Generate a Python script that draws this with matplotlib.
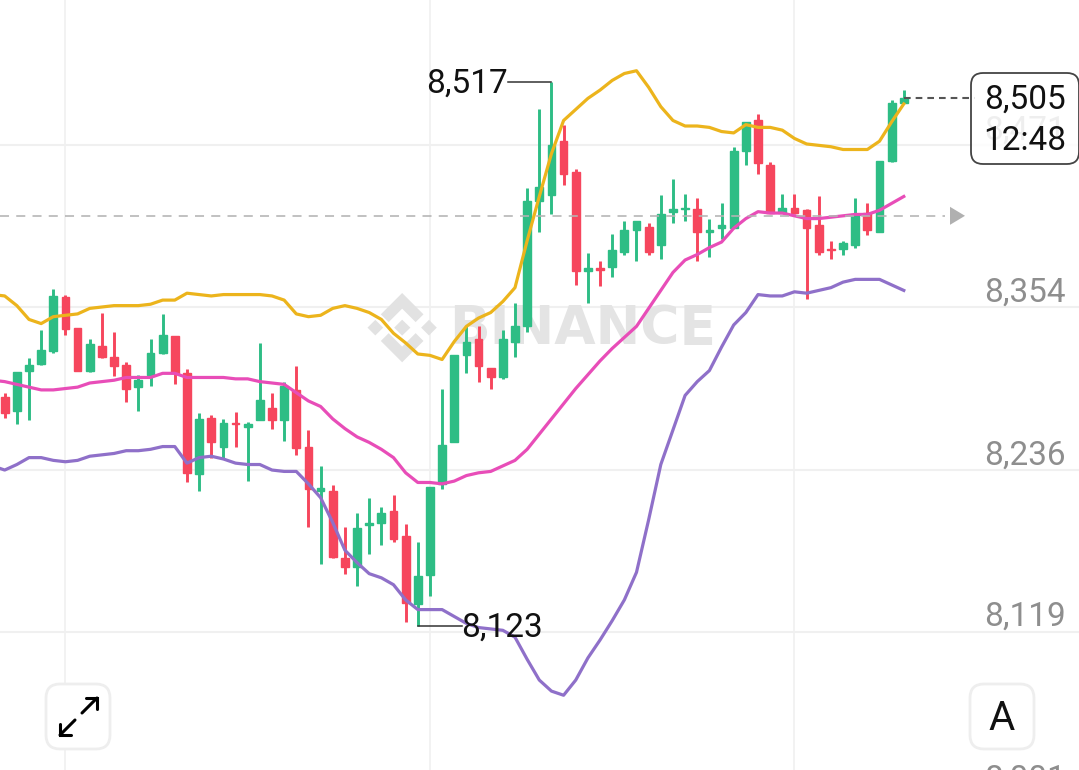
import numpy as np
import matplotlib
matplotlib.use("Agg")
from matplotlib import pyplot as plt
from matplotlib.patches import FancyBboxPatch, Polygon

plt.rcParams["font.family"] = ["Roboto", "DejaVu Sans"]

GREEN = "#2ebd85"
RED = "#f6465d"
YELLOW = "#ecb41c"
MAGENTA = "#e84db8"
PURPLE = "#8f70c9"

# candles, one per period
opens = [8289, 8279, 8308, 8313, 8322, 8361, 8339, 8308, 8326, 8318,
         8312, 8296, 8305, 8321, 8333, 8306, 8233, 8274, 8253, 8270,
         8267, 8272, 8281, 8272, 8294, 8253, 8221, 8221, 8172, 8166,
         8196, 8198, 8206, 8188, 8139, 8160, 8226, 8256, 8319, 8331,
         8310, 8303, 8329, 8340, 8431, 8435, 8474, 8452, 8380, 8382,
         8383, 8394, 8410, 8412, 8399, 8423, 8425, 8425, 8408, 8411,
         8411, 8467, 8489, 8457, 8422, 8426, 8424, 8413, 8396, 8396,
         8399, 8422, 8408, 8460, 8502]
closes = [8277, 8307, 8312, 8323, 8362, 8338, 8308, 8327, 8318, 8311,
          8295, 8301, 8321, 8334, 8306, 8234, 8273, 8256, 8270, 8269,
          8269, 8287, 8272, 8297, 8252, 8222, 8223, 8173, 8166, 8194,
          8198, 8205, 8186, 8140, 8159, 8224, 8254, 8319, 8329, 8311,
          8303, 8331, 8340, 8431, 8441, 8471, 8450, 8380, 8382, 8381,
          8395, 8410, 8416, 8394, 8421, 8425, 8426, 8408, 8410, 8413,
          8467, 8488, 8458, 8422, 8426, 8422, 8411, 8394, 8395, 8400,
          8421, 8410, 8460, 8502, 8505]
highs = [8292, 8307, 8317, 8337, 8367, 8363, 8339, 8331, 8350, 8336,
         8314, 8305, 8331, 8349, 8333, 8309, 8277, 8276, 8273, 8278,
         8271, 8328, 8292, 8300, 8311, 8265, 8239, 8225, 8195, 8205,
         8216, 8209, 8218, 8197, 8184, 8224, 8295, 8319, 8340, 8340,
         8310, 8337, 8357, 8440, 8497, 8517, 8486, 8454, 8393, 8387,
         8407, 8416, 8416, 8415, 8435, 8447, 8436, 8433, 8418, 8429,
         8470, 8488, 8494, 8459, 8436, 8436, 8425, 8434, 8402, 8402,
         8433, 8429, 8460, 8504, 8511]
lows = [8274, 8269, 8272, 8312, 8321, 8334, 8308, 8307, 8317, 8304,
        8285, 8279, 8297, 8320, 8298, 8227, 8221, 8245, 8245, 8253,
        8228, 8272, 8266, 8257, 8247, 8195, 8168, 8172, 8161, 8152,
        8175, 8182, 8184, 8126, 8123, 8145, 8222, 8256, 8306, 8300,
        8295, 8302, 8318, 8336, 8408, 8421, 8442, 8370, 8357, 8369,
        8376, 8392, 8387, 8392, 8389, 8415, 8416, 8387, 8390, 8403,
        8411, 8457, 8450, 8422, 8422, 8421, 8360, 8392, 8389, 8392,
        8397, 8406, 8408, 8459, 8502]

# bollinger bands, the first value sits just off the left edge
upper = [8363, 8362, 8355, 8345, 8342, 8347, 8348, 8349, 8353, 8354,
         8355, 8355, 8355, 8356, 8359, 8359, 8364, 8363, 8362, 8363,
         8363, 8363, 8363, 8362, 8359, 8349, 8347, 8348, 8353, 8355,
         8353, 8350, 8345, 8335, 8328, 8320, 8319, 8316, 8329, 8340,
         8346, 8350, 8358, 8368, 8402, 8434, 8465, 8489, 8497, 8505,
         8511, 8518, 8523, 8525, 8513, 8499, 8489, 8485, 8485, 8484,
         8481, 8480, 8486, 8484, 8484, 8482, 8476, 8472, 8471, 8470,
         8468, 8468, 8468, 8474, 8488, 8501]
middle = [8301, 8300, 8298, 8296, 8294, 8294, 8295, 8296, 8299, 8300,
          8301, 8303, 8303, 8303, 8306, 8306, 8303, 8303, 8303, 8303,
          8302, 8302, 8300, 8299, 8298, 8292, 8286, 8282, 8273, 8266,
          8260, 8256, 8251, 8245, 8234, 8227, 8227, 8226, 8228, 8232,
          8234, 8235, 8239, 8243, 8251, 8262, 8273, 8284, 8295, 8305,
          8315, 8324, 8332, 8340, 8353, 8366, 8379, 8388, 8392, 8397,
          8401, 8411, 8418, 8423, 8422, 8422, 8420, 8418, 8418, 8419,
          8420, 8421, 8421, 8424, 8429, 8434]
lower = [8239, 8236, 8240, 8245, 8245, 8243, 8242, 8243, 8246, 8247,
         8248, 8250, 8250, 8251, 8253, 8253, 8241, 8245, 8246, 8244,
         8241, 8240, 8240, 8236, 8235, 8235, 8226, 8216, 8198, 8178,
         8169, 8161, 8158, 8153, 8142, 8135, 8135, 8135, 8130, 8125,
         8122, 8121, 8120, 8115, 8099, 8084, 8076, 8073, 8084, 8100,
         8113, 8127, 8142, 8162, 8200, 8240, 8265, 8290, 8300, 8308,
         8325, 8341, 8350, 8363, 8362, 8362, 8365, 8364, 8366, 8368,
         8372, 8374, 8374, 8374, 8370, 8366]

price_ticks = [8471, 8354, 8236, 8119, 8001]
price_labels = ["8,471", "8,354", "8,236", "8,119", "8,001"]
time_ticks = [5, 35, 65]

last_price = 8505
countdown = "12:48"
mark_price = 8420
high_idx, high_val = 45, 8517
low_idx, low_val = 34, 8123

fig = plt.figure(figsize=(10.79, 7.70), dpi=100)
ax = fig.add_axes([0, 0, 1, 1])
ax.set_xlim(-0.387, 88.42)
ax.set_ylim(8018.9, 8576.2)
ax.axis("off")

# overlay in screen pixels for the app chrome around the chart
ui = fig.add_axes([0, 0, 1, 1], zorder=5)
ui.set_xlim(0, 1079)
ui.set_ylim(770, 0)
ui.axis("off")
ui.patch.set_alpha(0)

for p in price_ticks:
    ax.axhline(p, color="#f0f0f0", lw=1.5, zorder=1)
for t in time_ticks:
    ax.axvline(t, color="#f0f0f0", lw=1.2, zorder=1)

# watermark
logo_parts = [
    [(38.5, 53), (63, 28.5), (87.5, 53), (101.8, 38.8), (63, 0), (24.2, 38.8)],
    [(38.5, 73), (63, 97.5), (87.5, 73), (101.8, 87.2), (63, 126), (24.2, 87.2)],
    [(0, 63), (14.2, 48.8), (28.5, 63), (14.2, 77.2)],
    [(97.5, 63), (111.8, 48.8), (126, 63), (111.8, 77.2)],
    [(48.5, 63), (63, 48.5), (78, 63), (63, 77.5)],
]
for part in logo_parts:
    pts = [(367.5 + 0.55 * a, 293 + 0.55 * b) for a, b in part]
    ax.add_patch(Polygon(ax.transData.inverted().transform(
        [(x, 770 - y) for x, y in pts]), color="#e2e2e2", lw=0, zorder=1.5))
x_wm, y_wm = ax.transData.inverted().transform((449, 770 - 329))
ax.text(x_wm, y_wm, "BINANCE", family="DejaVu Sans", weight="bold", fontsize=38.5,
        color="#e4e4e4", ha="left", va="center", zorder=1.5)

# candles
idx = np.arange(len(opens))
o = np.array(opens)
c = np.array(closes)
colors = [GREEN if b >= a else RED for a, b in zip(opens, closes)]
ax.vlines(idx, lows, highs, colors=colors, lw=2.1, zorder=2)
ax.bar(idx, np.abs(c - o), bottom=np.minimum(o, c), width=0.64, color=colors,
       edgecolor=colors, linewidth=1.0, zorder=2)

# bands
band_x = np.arange(-1, len(opens))
ax.plot(band_x, upper, color=YELLOW, lw=2.3, zorder=3, solid_joinstyle="round")
ax.plot(band_x, middle, color=MAGENTA, lw=2.3, zorder=3, solid_joinstyle="round")
ax.plot(band_x, lower, color=PURPLE, lw=2.3, zorder=3, solid_joinstyle="round")

# price labels on the right
axis_tr = ax.get_yaxis_transform()
for p, lab in zip(price_ticks, price_labels):
    ax.annotate(lab, xy=(1066 / 1079, p), xycoords=axis_tr, xytext=(0, 10.5),
                textcoords="offset points", ha="right", va="center",
                fontsize=24, color="#8e8e8e", zorder=2)

# mark price line and arrow
ax.plot([-0.387, 77.4], [mark_price, mark_price], color="#b4b4b4", lw=1.3,
        dashes=(5, 4), zorder=4, alpha=0.9)
_, y_mark = ax.transData.transform((0, mark_price))
ui.add_patch(Polygon([(950, 770 - y_mark - 9), (965, 770 - y_mark), (950, 770 - y_mark + 9)],
                     color="#b0b0b0", lw=0))

# last price line and box
ax.plot([74, 87.9 - 8], [last_price, last_price], color="#555555", lw=1.5,
        dashes=(3.2, 2.4), zorder=4)
ui.add_patch(FancyBboxPatch((983, 85), 84, 67, boxstyle="round,pad=12,rounding_size=12",
                            fc=(1, 1, 1, 0.86), ec="#444444", lw=1.3))
_, y_last = ax.transData.transform((0, last_price))
ui.text(1066, 770 - y_last + 1, "8,505", ha="right", va="center", fontsize=24, color="#111111")
ui.text(1066, 141, countdown, ha="right", va="center", fontsize=24, color="#111111")

# high and low markers
ax.plot([high_idx, high_idx - 3.55], [high_val, high_val], color="#333333", lw=1.1, zorder=4)
ax.annotate("8,517", xy=(high_idx - 3.55, high_val), xytext=(0, -1.5), textcoords="offset points",
            ha="right", va="center", fontsize=24, color="#111111", zorder=6)
ax.plot([low_idx, low_idx + 3.6], [low_val, low_val], color="#333333", lw=1.1, zorder=4)
ax.annotate("8,123", xy=(low_idx + 3.6, low_val), xytext=(0, -1), textcoords="offset points",
            ha="left", va="center", fontsize=24, color="#111111", zorder=6)

# buttons
for x0 in (46, 970):
    ui.add_patch(FancyBboxPatch((x0 + 12, 696), 40, 41, boxstyle="round,pad=12,rounding_size=14",
                                fc="white", ec="#eeeeee", lw=2))
ui.text(1002, 718, "A", ha="center", va="center", fontsize=29, color="#111111")
for (x1, y1), (x2, y2) in [((82, 713), (97, 698)), ((75, 720), (60, 735))]:
    ui.plot([x1, x2], [y1, y2], color="black", lw=2.2, solid_capstyle="round")
    sx = 1 if x2 > x1 else -1
    sy = 1 if y2 > y1 else -1
    ui.plot([x2 - sx * 11, x2, x2], [y2, y2, y2 - sy * 11], color="black", lw=2.2,
            solid_capstyle="round", solid_joinstyle="miter")

fig.savefig("out.png", dpi=100, facecolor="white")
